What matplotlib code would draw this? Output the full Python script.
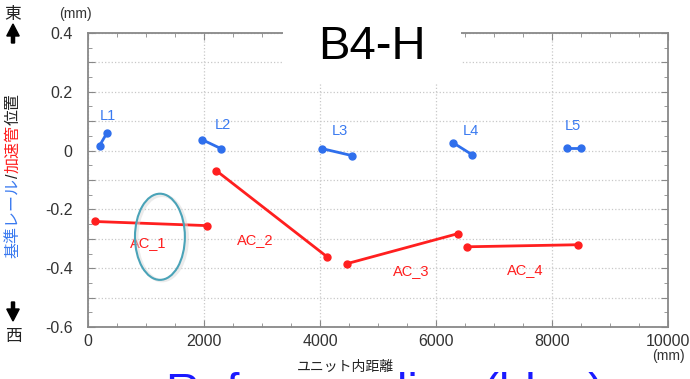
import numpy as np
import matplotlib
matplotlib.use("Agg")
import matplotlib.pyplot as plt
from matplotlib.patches import Ellipse, Rectangle, FancyArrow

plt.rcParams['font.family'] = ['Liberation Sans', 'Noto Sans CJK JP', 'DejaVu Sans']

# ------------------------------------------
# Data
# ------------------------------------------

rail_names = ["L1", "L2", "L3", "L4", "L5"]
rail_x = [[200, 330], [1970, 2290], [4030, 4550], [6290, 6620], [8260, 8500]]
rail_y = [[0.017, 0.061], [0.037, 0.007], [0.007, -0.017], [0.027, -0.014], [0.010, 0.010]]
rail_label_x = [345, 2330, 4345, 6600, 8360]
rail_label_y = [0.119, 0.088, 0.068, 0.068, 0.082]

acc_names = ["AC_1", "AC_2", "AC_3", "AC_4"]
acc_x = [[120, 2050], [2210, 4120], [4470, 6380], [6530, 8450]]
acc_y = [[-0.241, -0.255], [-0.068, -0.361], [-0.384, -0.282], [-0.327, -0.320]]
acc_label_x = [1030, 2880, 5570, 7530]
acc_label_y = [-0.313, -0.303, -0.408, -0.405]

BLUE = "#2f6fec"
RED = "#ff1f1f"

# ------------------------------------------
# Figure
# ------------------------------------------

fig = plt.figure(figsize=(6.9, 3.79), dpi=100)
ax = fig.add_axes([0.1275, 0.137, 0.841, 0.776])

for xs, ys in zip(rail_x, rail_y):
    ax.plot(xs, ys, color=BLUE, lw=2, marker="o", ms=5, zorder=3)
for name, lx, ly in zip(rail_names, rail_label_x, rail_label_y):
    ax.text(lx, ly, name, color="#3a7af0", fontsize=10.5, ha="center", va="center")

for xs, ys in zip(acc_x, acc_y):
    ax.plot(xs, ys, color=RED, lw=2, marker="o", ms=5, zorder=3)
for name, lx, ly in zip(acc_names, acc_label_x, acc_label_y):
    ax.text(lx, ly, name, color=RED, fontsize=10.5, ha="center", va="center")

# highlight ellipse around AC_1 (with a faint shadow)
ax.add_patch(Ellipse((1275, -0.297), 870, 0.29, fill=False, ec="#d8d8d8",
                     lw=2.5, alpha=0.5, zorder=4))
ax.add_patch(Ellipse((1240, -0.293), 860, 0.293, fill=False, ec="#4aa3b8",
                     lw=1.5, zorder=5))

ax.set_xlim(0, 10000)
ax.set_ylim(-0.6, 0.4)
ax.set_xticks(np.arange(0, 10001, 2000))
ax.set_xticks(np.arange(0, 10001, 500), minor=True)
ax.set_yticks(np.arange(-0.6, 0.41, 0.1))
ax.set_yticks(np.arange(-0.6, 0.41, 0.05), minor=True)
ylabels = []
for v in np.arange(-0.6, 0.41, 0.1):
    v = round(v, 1)
    if abs(v) < 1e-9:
        ylabels.append("0")
    elif round(v * 10) % 2 == 0:
        ylabels.append(f"{v:g}")
    else:
        ylabels.append("")
ax.set_yticklabels(ylabels)
ax.set_xticklabels(["0", "2000", "4000", "6000", "8000", "10000"])

ax.grid(True, which="major", color="#c8c8c8", ls=":", lw=0.9)
ax.tick_params(which="both", direction="in", top=True, right=True,
               colors="#888888", labelcolor="#333333", labelsize=11.5)
ax.tick_params(which="major", length=5)
ax.tick_params(which="minor", length=3)
ax.tick_params(axis="y", pad=11)
ax.tick_params(axis="x", pad=5)
for s in ax.spines.values():
    s.set_color("#888888")
    s.set_linewidth(1.3)

# units and x label
fig.text(75 / 690, 1 - 14 / 379, "(mm)", fontsize=10, color="#333333", ha="center", va="center")
fig.text(668 / 690, 1 - 356 / 379, "(mm)", fontsize=10, color="#333333", ha="center", va="center")
fig.text(345 / 690, 1 - 367 / 379, "ユニット内距離", fontsize=10, color="#222222",
         ha="center", va="center", zorder=2)

# title in white box
fig.patches.append(Rectangle((283 / 690, 1 - 83 / 379), 178 / 690, 73 / 379,
                             transform=fig.transFigure, fc="white", ec="none", zorder=5))
fig.text(372 / 690, 1 - 47 / 379, "B4-H", fontsize=34, color="black",
         ha="center", va="center", zorder=6)

# big blue text, mostly cut off at the bottom edge (as in the reference)
fig.text(385 / 690, 1 - 372 / 379, "Reference line (blue)", fontsize=34, color="#1a1aff",
         ha="center", va="top", zorder=0)

# vertical y label: east / west with coloured pieces
fig.text(13 / 690, 1 - 15 / 379, "東", fontsize=12, color="#222222", ha="center", va="center")
fig.text(13 / 690, 1 - 336 / 379, "西", fontsize=12, color="#222222", ha="center", va="center")
fig.patches.append(FancyArrow(
    13 / 690, 1 - 43 / 379, 0, 19 / 379, width=0.0045, head_width=0.018,
    head_length=12 / 379, length_includes_head=True, transform=fig.transFigure,
    color="black"))
fig.patches.append(FancyArrow(
    13 / 690, 1 - 302 / 379, 0, -19 / 379, width=0.0045, head_width=0.018,
    head_length=12 / 379, length_includes_head=True, transform=fig.transFigure,
    color="black"))

renderer = fig.canvas.get_renderer()
y0 = 1 - 258 / 379
for piece, col in [("基準レール", "#3a7af0"), ("/", "#222222"),
                   ("加速管", RED), ("位置", "#222222")]:
    t = fig.text(13 / 690, y0, piece, fontsize=11.5, color=col, rotation=90,
                 ha="center", va="bottom")
    bb = t.get_window_extent(renderer=renderer)
    y0 += bb.height / fig.bbox.height

fig.savefig("out.png", dpi=100)
